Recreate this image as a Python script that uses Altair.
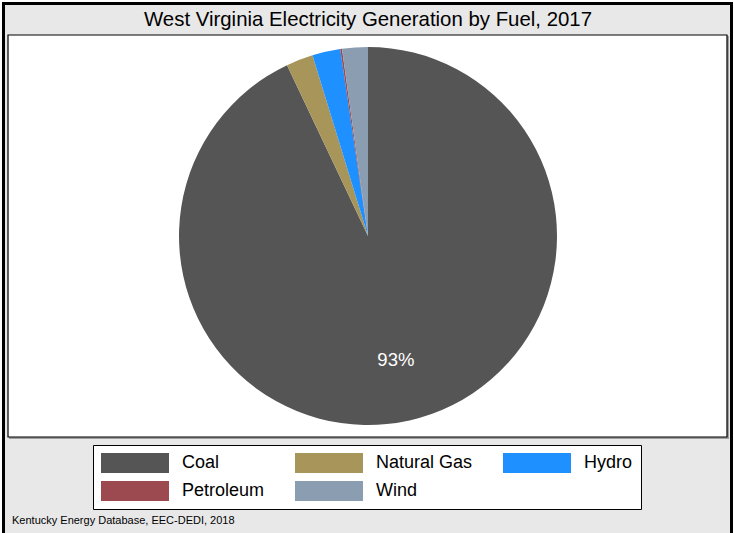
import altair as alt
import pandas as pd

# ---- data ----
fuels = ["Coal", "Natural Gas", "Hydro", "Petroleum", "Wind"]
shares = [93.0, 2.3, 2.4, 0.15, 2.2]
colors = ["#555555", "#a8955a", "#1e90ff", "#9c4a50", "#8a9db1"]
title_text = "West Virginia Electricity Generation by Fuel, 2017"
source_text = "Kentucky Energy Database, EEC-DEDI, 2018"

df = pd.DataFrame({
    "fuel": fuels,
    "share": shares,
    "order": list(range(len(fuels))),
    "label": [f"{round(v)}%" if v > 5 else "" for v in shares],
})

W, H = 734, 533
CX, CY, R = 368, 236, 189

one = pd.DataFrame({"k": [0]})

frame = alt.Chart(one).mark_rect(fill="#e8e8e8", stroke="black", strokeWidth=3).encode(
    x=alt.value(3.5), x2=alt.value(731.5), y=alt.value(3.5), y2=alt.value(560)
)
shadow = alt.Chart(one).mark_rect(fill="#a0a0a0").encode(
    x=alt.value(9), x2=alt.value(729), y=alt.value(36), y2=alt.value(439)
)
plotbox = alt.Chart(one).mark_rect(fill="white", stroke="black", strokeWidth=1.2).encode(
    x=alt.value(8), x2=alt.value(727), y=alt.value(35), y2=alt.value(437)
)

color_scale = alt.Scale(domain=fuels, range=colors)

pie = alt.Chart(df).mark_arc(outerRadius=R, strokeWidth=0).encode(
    theta=alt.Theta("share:Q", stack=True),
    order=alt.Order("order:Q"),
    color=alt.Color(
        "fuel:N",
        scale=color_scale,
        sort=fuels,
        legend=alt.Legend(
            orient="none", legendX=93, legendY=445, direction="horizontal",
            columns=3, title=None,
            symbolType="M-3.4,-1H3.4V1H-3.4Z", symbolSize=400,
            symbolOffset=24,
            symbolStrokeWidth=0, symbolOpacity=1,
            labelFont="Liberation Sans", labelFontSize=18, labelColor="black",
            labelOffset=37, columnPadding=30, rowPadding=8, padding=8,
            strokeColor="black", fillColor="white",
        ),
    ),
    x=alt.value(CX), y=alt.value(CY),
)

labels = alt.Chart(df).mark_text(
    font="Liberation Sans", fontSize=18.5, color="white", baseline="middle", align="center"
).encode(
    theta=alt.Theta("share:Q", stack=True),
    order=alt.Order("order:Q"),
    radius=alt.value(127),
    text="label:N",
    x=alt.value(CX), y=alt.value(CY),
)

title = alt.Chart(one).mark_text(
    font="Liberation Sans", fontSize=20.4, color="black", baseline="alphabetic", align="center"
).encode(x=alt.value(368), y=alt.value(26), text=alt.value(title_text))

source = alt.Chart(one).mark_text(
    font="Liberation Sans", fontSize=11, color="black", baseline="alphabetic", align="left"
).encode(x=alt.value(12), y=alt.value(524), text=alt.value(source_text))

chart = alt.layer(frame, shadow, plotbox, pie, labels, title, source).properties(
    width=W, height=H, padding=0, autosize=alt.AutoSizeParams(type="none"),
    background="white",
).configure_view(stroke=None)

chart.save("out.html", embed_options={"renderer": "svg", "actions": False})
